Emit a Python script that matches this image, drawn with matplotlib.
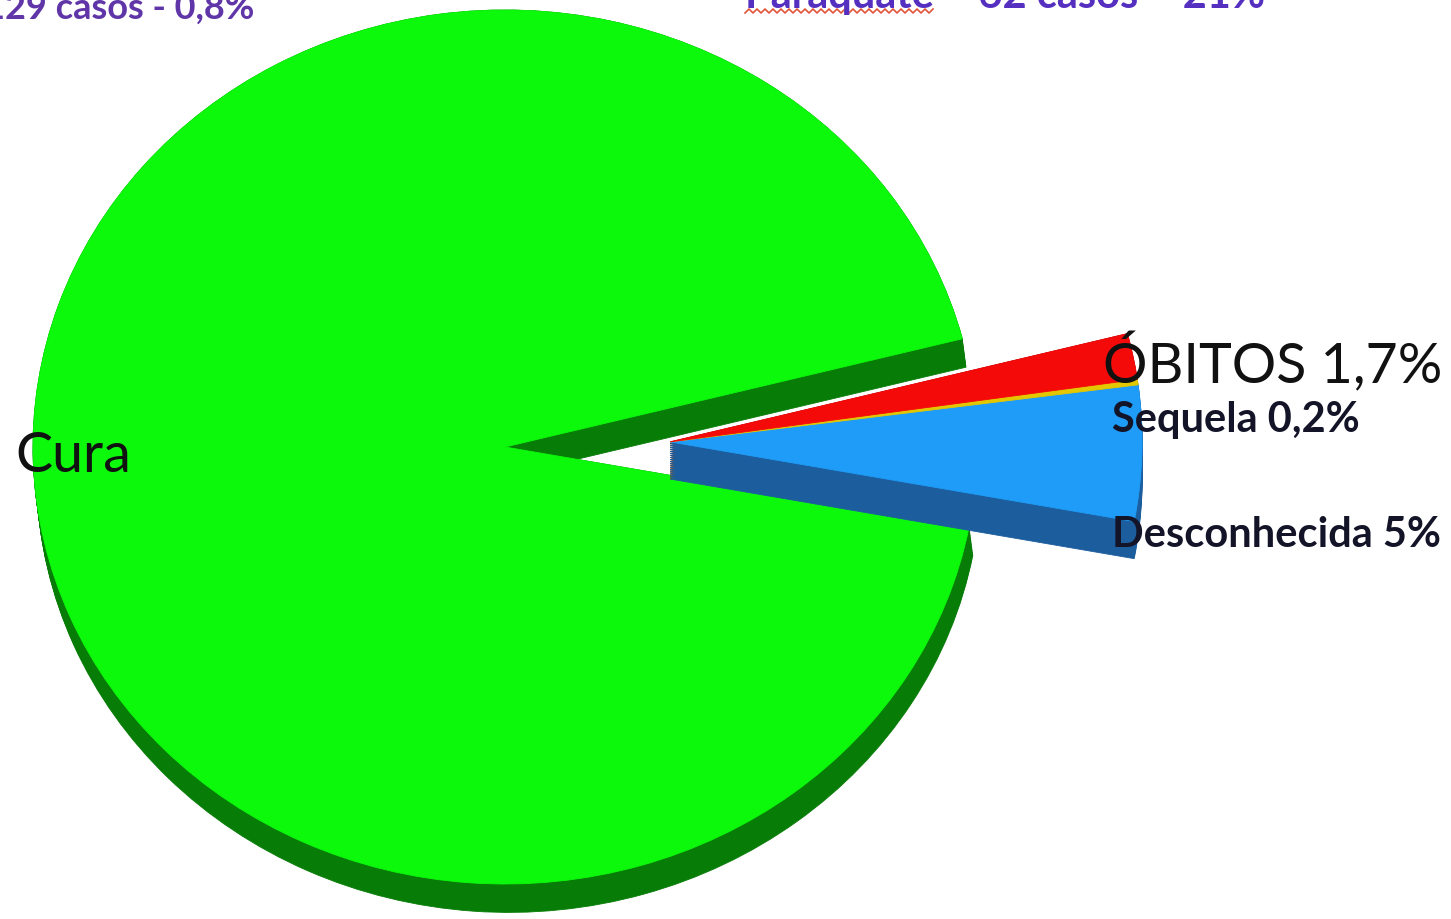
import numpy as np
import matplotlib.pyplot as plt
from matplotlib.patches import Wedge

plt.rcParams['font.family'] = ['Lato', 'DejaVu Sans']

# desfechos dos casos (%), em ordem anti-horaria
desfechos = ['Desconhecida', 'Sequela', 'ÓBITOS', 'Cura']
percentuais = [5.0, 0.2, 1.7, 93.1]
rotulos = ['Desconhecida 5%', 'Sequela 0,2%', 'ÓBITOS 1,7%', 'Cura']
cores_topo = ['#1e9cf7', '#e3c800', '#f50a0a', '#0cf90c']
cores_lado = ['#1c5d9e', '#9a8600', '#9c0000', '#077d07']
destaque = [0.35, 0.35, 0.35, 0.0]

W, H = 1451, 920
cx, cy, rx, ry = 505, 448, 472, 437   # centro e raios da face de cima, em pixels

def px(x, y):
    return (x - cx) / rx, (cy - y) / ry

fig = plt.figure(figsize=(W / 100, H / 100), dpi=100)
ax = fig.add_axes([0, 0, 1, 1])
ax.set_xlim(-cx / rx, (W - cx) / rx)
ax.set_ylim(-(H - cy) / ry, cy / ry)
ax.axis('off')

inicio = -10.5
bordas = inicio + 360 * np.concatenate([[0], np.cumsum(percentuais)]) / sum(percentuais)
# as fatias pequenas saem juntas, na direcao do meio do grupo
meio = np.deg2rad((bordas[0] + bordas[3]) / 2)

for i in range(len(percentuais)):
    ox = destaque[i] * np.cos(meio)
    oy = destaque[i] * np.sin(meio)
    if destaque[i] == 0:
        z, prof = 1, (0.008, -0.065)
    else:
        z, prof = 3, (0.0, -0.085)   # fatias da frente parecem mais grossas
    # lateral: a fatia "arrastada" para baixo, em varias copias
    for k in np.linspace(0, 1, 20):
        ax.add_patch(Wedge((ox + k * prof[0], oy + k * prof[1]), 1,
                           bordas[i], bordas[i + 1], facecolor=cores_lado[i],
                           edgecolor=cores_lado[i], lw=0.6, zorder=z - 0.01 * i))
    ax.add_patch(Wedge((ox, oy), 1, bordas[i], bordas[i + 1],
                       facecolor=cores_topo[i], edgecolor=cores_topo[i], lw=0.6,
                       zorder=z + 1))

# rotulos das fatias
ax.text(*px(15, 472), rotulos[3], fontsize=40, color='#111111', zorder=6)
ax.text(*px(1103, 383), rotulos[2], fontsize=40, color='#111111', zorder=6)
ax.text(*px(1112, 432), rotulos[1], fontsize=30, fontweight='bold', color='#141428', zorder=6)
ax.text(*px(1112, 547), rotulos[0], fontsize=30, fontweight='bold', color='#141428', zorder=6)

# titulos cortados no topo do slide
roxo = '#5f35a8'
fig.text(-16 / W, 1 - 19 / H, '129 casos - 0,8%', fontsize=26, fontweight='bold', color=roxo)
fig.text(745 / W, 1 - 8 / H, 'Paraquate – 62 casos – 21%', fontsize=30,
         fontweight='bold', color='#5530c0')
zx = np.arange(745, 936, 4)
zy = 12 + 2.0 * (-1) ** np.arange(len(zx))
fig.add_artist(plt.Line2D(zx / W, 1 - zy / H, color='#e0553a', lw=1.2))

fig.savefig('out.png', dpi=100, facecolor='white')
